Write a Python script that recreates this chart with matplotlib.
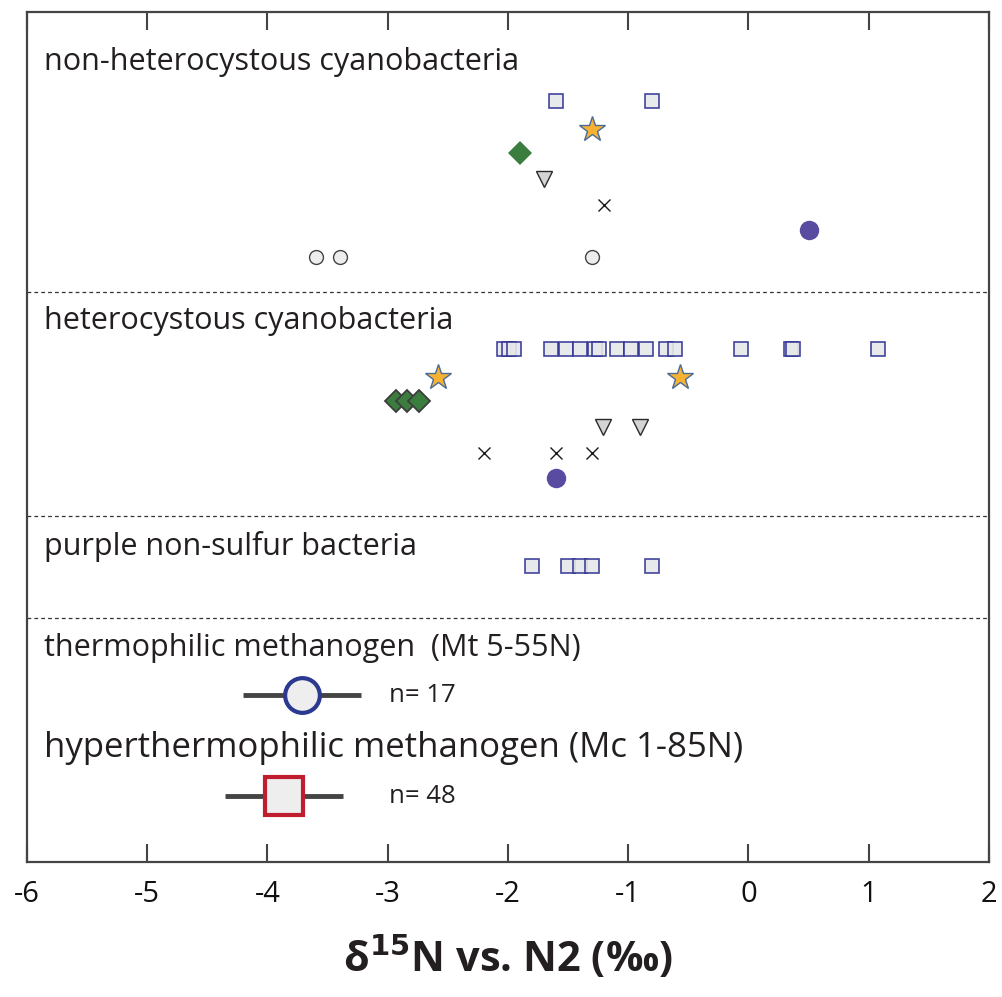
import matplotlib.pyplot as plt

plt.rcParams['font.family'] = ['Open Sans', 'DejaVu Sans']

# delta15N values (permil)
# non-heterocystous cyanobacteria
nh_square = [-1.6, -0.8]
nh_star = [-1.3]
nh_diamond = [-1.9]
nh_tri = [-1.7]
nh_cross = [-1.2]
nh_dot = [0.5]
nh_circle = [-3.6, -3.4, -1.3]

# heterocystous cyanobacteria
h_square = [-2.03, -1.99, -1.95, -1.64, -1.52, -1.40, -1.28, -1.24, -1.09, -0.98,
            -0.85, -0.69, -0.61, -0.06, 0.35, 0.37, 1.08]
h_star = [-2.58, -0.57]
h_diamond = [-2.93, -2.84, -2.74]
h_tri = [-1.21, -0.90]
h_cross = [-2.2, -1.6, -1.3]
h_dot = [-1.6]

# purple non-sulfur bacteria
p_square = [-1.8, -1.5, -1.4, -1.3, -0.8]

# methanogens: mean, low, high, n
mt_mean, mt_lo, mt_hi, mt_n = -3.71, -4.20, -3.22, 17
mc_mean, mc_lo, mc_hi, mc_n = -3.86, -4.35, -3.37, 48

group_labels = ['non-heterocystous cyanobacteria', 'heterocystous cyanobacteria',
                'purple non-sulfur bacteria', 'thermophilic methanogen  (Mt 5-55N)',
                'hyperthermophilic methanogen (Mc 1-85N)']
xticks = [-6, -5, -4, -3, -2, -1, 0, 1, 2]

# layout (vertical positions in axis units, top = 12, bottom = 862)
nh_rows = [101, 129, 153, 179, 205, 230, 257]
h_rows = [349, 377, 401, 427, 453, 478]
p_row = 566
mt_row, mc_row = 695, 796
label_rows = [62, 321, 546, 648, 748]
label_sizes = [22, 22, 22, 22, 25]
sep_rows = [292, 516, 618]

fig = plt.figure(figsize=(10.03, 9.97), dpi=100)
ax = fig.add_axes([27/1003, (997-862)/997, (989-27)/1003, 850/997])
ax.set_xlim(-6, 2)
ax.set_ylim(862, 12)

sq = dict(marker='s', ms=10.5, mfc='#e6e7e8', mec='#2e3192', mew=1.2, ls='none', alpha=0.9)
st = dict(marker='*', ms=19, mfc='#f6b233', mec='#4a6c9b', mew=1.0, ls='none')
tri = dict(marker='v', ms=12, mfc='#d4d4d6', mec='#2a2a2a', mew=1.0, ls='none')
cr = dict(marker='x', ms=8, color='#1a1a1a', mew=1.0, ls='none')
dot = dict(marker='o', ms=14, mfc='#594ba0', mec='#594ba0', mew=0, ls='none')
circ = dict(marker='o', ms=10, mfc='#ededed', mec='#444444', mew=1.0, ls='none')

def row(vals, y, **kw):
    ax.plot(vals, [y] * len(vals), **kw)

row(nh_square, nh_rows[0], **sq)
row(nh_star, nh_rows[1], **st)
row(nh_diamond, nh_rows[2], marker='D', ms=12, mfc='#3a7d3e', mec='#3a7d3e', mew=0, ls='none')
row(nh_tri, nh_rows[3], **tri)
row(nh_cross, nh_rows[4], **cr)
row(nh_dot, nh_rows[5], **dot)
row(nh_circle, nh_rows[6], **circ)

row(h_square, h_rows[0], **sq)
row(h_star, h_rows[1], **st)
row(h_diamond, h_rows[2], marker='D', ms=11, mfc='#3a7d3e', mec='#3d3d3d', mew=1.3, ls='none')
row(h_tri, h_rows[3], **tri)
row(h_cross, h_rows[4], **cr)
row(h_dot, h_rows[5], **dot)

row(p_square, p_row, **sq)

# methanogen ranges
ax.plot([mt_lo, mt_hi], [mt_row, mt_row], color='#444444', lw=3.5, solid_capstyle='butt', zorder=2)
ax.plot([mt_mean], [mt_row], marker='o', ms=25, mfc='#eeeeee', mec='#2b3990', mew=3, zorder=3)
ax.plot([mc_lo, mc_hi], [mc_row, mc_row], color='#444444', lw=3.5, solid_capstyle='butt', zorder=2)
ax.plot([mc_mean], [mc_row], marker='s', ms=27, mfc='#eeeeee', mec='#be1e2d', mew=3, zorder=3)
ax.text(-2.99, mt_row, f'n= {mt_n}', fontsize=18.5, color='#231f20', va='center')
ax.text(-2.99, mc_row, f'n= {mc_n}', fontsize=18.5, color='#231f20', va='center')

for y in sep_rows:
    ax.axhline(y, color='#333333', lw=0.9, ls=(0, (3, 2.5)))

for lab, y, fs in zip(group_labels, label_rows, label_sizes):
    ax.text(-5.86, y, lab, fontsize=fs, color='#231f20', va='center')

ax.set_xticks(xticks)
ax.set_xticklabels([str(t) for t in xticks], fontsize=21, color='#111111')
ax.tick_params(axis='x', direction='in', length=13, width=1.5, color='#444444',
               top=True, pad=13)
ax.set_yticks([])
for s in ax.spines.values():
    s.set_color('#444444')
    s.set_linewidth(1.6)

ax.set_xlabel('δ$^{\\mathbf{15}}$N vs. N2 (‰)', fontsize=30, fontweight='bold',
              color='#231f20', labelpad=18)

fig.savefig('out.png', dpi=100)
